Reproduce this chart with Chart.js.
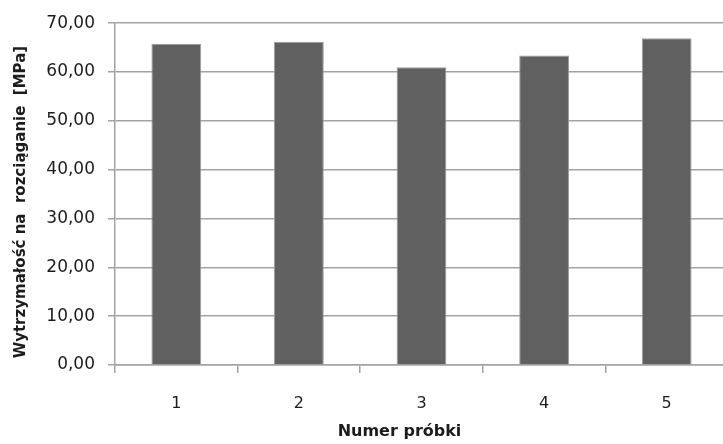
<!DOCTYPE html>
<html lang="pl">
<head>
<meta charset="utf-8">
<script src="https://cdn.jsdelivr.net/npm/chart.js@4/dist/chart.umd.min.js"></script>
<style>
  html, body { margin: 0; padding: 0; background: #ffffff; overflow: hidden; }
  #wrap { width: 740px; height: 444px; }
</style>
</head>
<body>
<div id="wrap"><canvas id="chart" width="740" height="444"></canvas></div>
<script>
// Sample numbers and measured tensile strength (MPa)
const categories = ['1', '2', '3', '4', '5'];
const strength = [65.8, 66.2, 61.0, 63.4, 66.9];
const yTicks = [0, 10, 20, 30, 40, 50, 60, 70];

const yTitle = 'Wytrzymałość na  rozciąganie  [MPa]';
const xTitle = 'Numer próbki';

const axisGray = '#a3a3a3';
const textColor = '#1c1c1c';
const titleFont = 'bold 16px "DejaVu Sans", sans-serif';
const yTitleFont = 'bold 15px "DejaVu Sans", sans-serif';

// Axis titles, placed relative to the scales
const axisTitlesPlugin = {
  id: 'axisTitles',
  afterDraw(chart) {
    const xs = chart.scales.x;
    const ys = chart.scales.y;
    const ctx = chart.ctx;
    ctx.save();
    ctx.fillStyle = textColor;
    ctx.textAlign = 'center';
    ctx.textBaseline = 'middle';

    ctx.font = titleFont;
    ctx.fillText(xTitle, (xs.left + xs.right) / 2 - 22, xs.bottom - 12);

    ctx.font = yTitleFont;
    ctx.translate(ys.left + 21, (ys.top + ys.bottom) / 2 + 8);
    ctx.rotate(-Math.PI / 2);
    ctx.fillText(yTitle, 0, 0);
    ctx.restore();
  }
};

new Chart(document.getElementById('chart'), {
  type: 'bar',
  data: {
    labels: categories,
    datasets: [{
      data: strength,
      backgroundColor: '#606060',
      borderColor: '#9c9c9c',
      borderWidth: 1,
      categoryPercentage: 1.0,
      barPercentage: 0.406
    }]
  },
  options: {
    responsive: false,
    animation: false,
    layout: { padding: { left: 0, right: 12, top: 19, bottom: 0 } },
    plugins: {
      legend: { display: false },
      tooltip: { enabled: false }
    },
    scales: {
      x: {
        afterFit(scale) { scale.height = 79; },
        grid: {
          offset: true,
          drawOnChartArea: false,
          color: axisGray,
          tickColor: axisGray,
          tickLength: 8,
          lineWidth: 1.5
        },
        border: { color: axisGray, width: 1.5 },
        ticks: {
          color: textColor,
          padding: 21,
          font: { family: '"DejaVu Sans", sans-serif', size: 16 }
        }
      },
      y: {
        min: 0,
        max: 70,
        afterFit(scale) { scale.width = 115; },
        afterBuildTicks(scale) { scale.ticks = yTicks.map(v => ({ value: v })); },
        grid: {
          color: axisGray,
          tickColor: axisGray,
          tickLength: 7,
          lineWidth: 1.5
        },
        border: { color: axisGray, width: 1.5 },
        ticks: {
          color: textColor,
          padding: 13,
          font: { family: '"DejaVu Sans", sans-serif', size: 17 },
          callback: v => v.toFixed(2).replace('.', ',')
        }
      }
    }
  },
  plugins: [axisTitlesPlugin]
});
</script>
</body>
</html>
